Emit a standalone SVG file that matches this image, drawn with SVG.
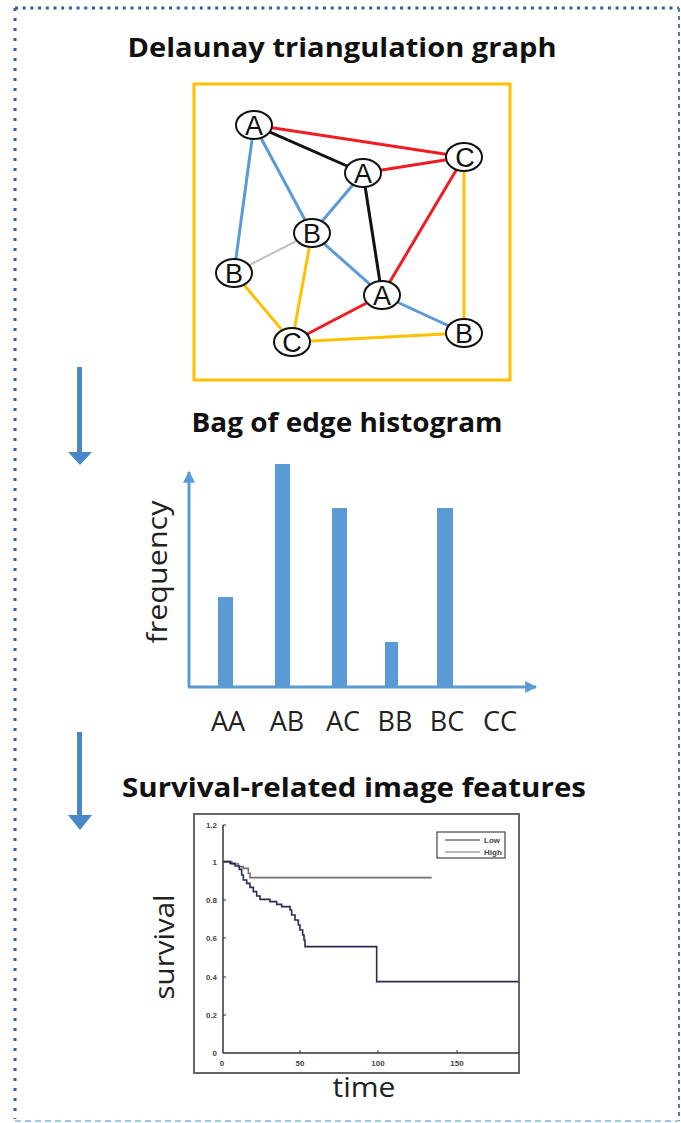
<svg xmlns="http://www.w3.org/2000/svg" width="681" height="1123" viewBox="0 0 681 1123">
<style>
.title{font-family:"Open Sans","Liberation Sans",sans-serif;font-weight:bold;font-size:27px;fill:#111;text-anchor:middle}
.lbl{font-family:"Open Sans","Liberation Sans",sans-serif;font-size:27px;fill:#222;text-anchor:middle}
.node ellipse{fill:#fff;stroke:#111;stroke-width:2}
.node text{font-family:"Liberation Sans","Open Sans",sans-serif;font-size:27px;fill:#111;text-anchor:middle}
.e{stroke-width:3;fill:none}
.red{stroke:#ee1c24}.blk{stroke:#111}.blu{stroke:#5b9bd5}.yel{stroke:#ffc000}.gry{stroke:#c0c0c0;stroke-width:2}
.bar{fill:#5b9bd5}
.tick{font-family:"Liberation Sans",sans-serif;font-size:8px;font-weight:bold;fill:#444}
</style>
<defs>
<marker id="ah" viewBox="0 0 10 10" refX="9" refY="5" markerWidth="4" markerHeight="4" orient="auto" markerUnits="strokeWidth">
<path d="M0,0 L10,5 L0,10 z" fill="#5b9bd5"/>
</marker>
</defs>
<rect width="681" height="1123" fill="#fff"/>
<g id="border">
<line x1="15" y1="8" x2="679" y2="8" stroke="#2f5f9e" stroke-width="3" stroke-dasharray="3 4.7"/>
<line x1="15" y1="8" x2="15" y2="1119" stroke="#2f5f9e" stroke-width="3" stroke-dasharray="3 7"/>
<line x1="679" y1="8" x2="679" y2="1121" stroke="#4f7fbf" stroke-width="2" stroke-dasharray="4 4"/>
<line x1="15" y1="1121" x2="679" y2="1121" stroke="#9cc9ea" stroke-width="2" stroke-dasharray="6 4"/>
</g>
<text class="title" x="342" y="57" textLength="429" lengthAdjust="spacingAndGlyphs">Delaunay triangulation graph</text>
<text class="title" x="347" y="432" textLength="311" lengthAdjust="spacingAndGlyphs">Bag of edge histogram</text>
<text class="title" x="354" y="797" textLength="464" lengthAdjust="spacingAndGlyphs">Survival-related image features</text>
<g id="graph-frame"><rect x="194" y="84" width="316" height="296" fill="none" stroke="#ffc000" stroke-width="3"/></g>
<g id="connectors">
<line class="e red" x1="254" y1="125" x2="464" y2="157"/>
<line class="e blk" x1="254" y1="125" x2="363" y2="173"/>
<line class="e red" x1="363" y1="173" x2="464" y2="157"/>
<line class="e blu" x1="254" y1="125" x2="234" y2="273"/>
<line class="e blu" x1="254" y1="125" x2="312" y2="233"/>
<line class="e blu" x1="363" y1="173" x2="312" y2="233"/>
<line class="e blk" x1="363" y1="173" x2="382" y2="295"/>
<line class="e red" x1="464" y1="157" x2="382" y2="295"/>
<line class="e yel" x1="464" y1="157" x2="464" y2="333"/>
<line class="e gry" x1="312" y1="233" x2="234" y2="273"/>
<line class="e yel" x1="312" y1="233" x2="292" y2="342"/>
<line class="e blu" x1="312" y1="233" x2="382" y2="295"/>
<line class="e yel" x1="234" y1="273" x2="292" y2="342"/>
<line class="e red" x1="292" y1="342" x2="382" y2="295"/>
<line class="e blu" x1="382" y1="295" x2="464" y2="333"/>
<line class="e yel" x1="292" y1="342" x2="464" y2="333"/>
</g>
<g id="nA1" class="node"><ellipse cx="254" cy="125" rx="18" ry="14"/><text x="254" y="135">A</text></g>
<g id="nA2" class="node"><ellipse cx="363" cy="173" rx="18" ry="14"/><text x="363" y="183">A</text></g>
<g id="nC1" class="node"><ellipse cx="464" cy="157" rx="18" ry="14"/><text x="465" y="167">C</text></g>
<g id="nB1" class="node"><ellipse cx="312" cy="233" rx="18" ry="14"/><text x="312" y="243">B</text></g>
<g id="nB2" class="node"><ellipse cx="234" cy="273" rx="18" ry="14"/><text x="234" y="283">B</text></g>
<g id="nA3" class="node"><ellipse cx="382" cy="295" rx="18" ry="14"/><text x="382" y="305">A</text></g>
<g id="nC2" class="node"><ellipse cx="292" cy="342" rx="18" ry="14"/><text x="292" y="352">C</text></g>
<g id="nB3" class="node"><ellipse cx="464" cy="333" rx="18" ry="14"/><text x="464" y="343">B</text></g>
<g id="arrow1"><rect x="77" y="367" width="5" height="86" fill="#4a86c8"/><polygon points="68,452 92,452 80,465" fill="#4a86c8"/></g>
<g id="arrow2"><rect x="77" y="732" width="5" height="84" fill="#4a86c8"/><polygon points="68,815 92,815 80,830" fill="#4a86c8"/></g>
<g id="histogram">
<line x1="189" y1="687" x2="189" y2="472" stroke="#5b9bd5" stroke-width="3" marker-end="url(#ah)"/>
<line x1="188" y1="687" x2="536" y2="687" stroke="#5b9bd5" stroke-width="3" marker-end="url(#ah)"/>
<rect class="bar" x="218" y="597" width="15" height="90"/>
<rect class="bar" x="275" y="464" width="15" height="223"/>
<rect class="bar" x="332" y="508" width="15" height="179"/>
<rect class="bar" x="385" y="642" width="13" height="45"/>
<rect class="bar" x="437" y="508" width="16" height="179"/>
<text class="lbl" x="228" y="731">AA</text>
<text class="lbl" x="287" y="731">AB</text>
<text class="lbl" x="343" y="731">AC</text>
<text class="lbl" x="395" y="731">BB</text>
<text class="lbl" x="447" y="731">BC</text>
<text class="lbl" x="500" y="731">CC</text>
<text class="lbl" x="0" y="0" font-size="30" textLength="143" lengthAdjust="spacingAndGlyphs" transform="translate(167,572) rotate(-90)">frequency</text>
</g>
<g id="survival-plot">
<rect x="194" y="814" width="325" height="259" fill="#fff" stroke="#666" stroke-width="2"/>
<line x1="223" y1="825" x2="223" y2="1053" stroke="#333" stroke-width="1.5"/>
<line x1="223" y1="1053" x2="519" y2="1053" stroke="#333" stroke-width="1.5"/>
<g stroke="#333" stroke-width="1">
<line x1="223" y1="825" x2="226" y2="825"/><line x1="223" y1="862" x2="226" y2="862"/><line x1="223" y1="900" x2="226" y2="900"/><line x1="223" y1="938" x2="226" y2="938"/><line x1="223" y1="977" x2="226" y2="977"/><line x1="223" y1="1015" x2="226" y2="1015"/>
<line x1="300" y1="1053" x2="300" y2="1050"/><line x1="378" y1="1053" x2="378" y2="1050"/><line x1="457" y1="1053" x2="457" y2="1050"/>
</g>
<text class="tick" x="217" y="828" text-anchor="end">1.2</text>
<text class="tick" x="217" y="865" text-anchor="end">1</text>
<text class="tick" x="217" y="903" text-anchor="end">0.8</text>
<text class="tick" x="217" y="941" text-anchor="end">0.6</text>
<text class="tick" x="217" y="980" text-anchor="end">0.4</text>
<text class="tick" x="217" y="1018" text-anchor="end">0.2</text>
<text class="tick" x="217" y="1056" text-anchor="end">0</text>
<text class="tick" x="222" y="1066" text-anchor="middle">0</text>
<text class="tick" x="300" y="1066" text-anchor="middle">50</text>
<text class="tick" x="378" y="1066" text-anchor="middle">100</text>
<text class="tick" x="457" y="1066" text-anchor="middle">150</text>
<g transform="translate(190,810) scale(0.33333)" fill="none">
<polyline vector-effect="non-scaling-stroke" stroke="#7a6e72" stroke-width="1.6" points="100,155 125,155 125,162 145,162 145,170 160,170 160,175 175,175 175,190 180,190 180,203 725,203"/>
<polyline vector-effect="non-scaling-stroke" stroke="#2b2b55" stroke-width="1.6" points="100,155 120,155 120,160 135,160 135,168 148,168 148,178 155,178 155,195 160,195 160,210 170,210 170,220 180,220 180,232 190,232 190,245 200,245 200,258 210,258 210,268 240,268 240,275 260,275 260,283 275,283 275,290 300,290 300,300 305,300 305,315 315,315 315,330 325,330 325,345 330,345 330,360 338,360 338,375 342,375 342,390 345,390 345,410 560,410 560,515 985,515"/>
</g>
<rect x="437" y="832" width="68" height="26" fill="#fff" stroke="#444" stroke-width="1.2"/>
<line x1="445" y1="840" x2="480" y2="840" stroke="#2b2b55" stroke-width="1.2"/>
<line x1="445" y1="852" x2="480" y2="852" stroke="#7a6e72" stroke-width="1.2"/>
<text class="tick" x="484" y="843" font-size="7">Low</text>
<text class="tick" x="484" y="855" font-size="7">High</text>
<text class="lbl" x="0" y="0" font-size="30" textLength="105" lengthAdjust="spacingAndGlyphs" transform="translate(174,947) rotate(-90)">survival</text>
<text class="lbl" x="364" y="1097" font-size="29" textLength="63" lengthAdjust="spacingAndGlyphs">time</text>
</g>
</svg>
